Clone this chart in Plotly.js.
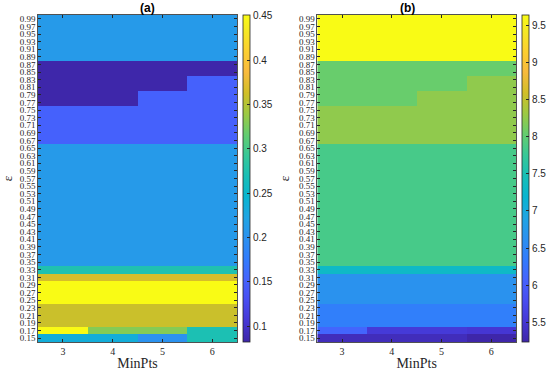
<!DOCTYPE html>
<html>
<head>
<meta charset="utf-8">
<script src="https://cdn.plot.ly/plotly-3.0.1.min.js"></script>
<style>html,body{margin:0;padding:0;background:#fff;}#chart{width:550px;height:371px;}</style>
</head>
<body>
<div id="chart"></div>
<script>
// Data
const minPts = [3, 4, 5, 6];
const epsilon = [0.15,0.17,0.19,0.21,0.23,0.25,0.27,0.29,0.31,0.33,0.35,0.37,0.39,0.41,0.43,0.45,0.47,0.49,0.51,0.53,0.55,0.57,0.59,0.61,0.63,0.65,0.67,0.69,0.71,0.73,0.75,0.77,0.79,0.81,0.83,0.85,0.87,0.89,0.91,0.93,0.95,0.97,0.99];
const epsTickText = ["0.15","0.17","0.19","0.21","0.23","0.25","0.27","0.29","0.31","0.33","0.35","0.37","0.39","0.41","0.43","0.45","0.47","0.49","0.51","0.53","0.55","0.57","0.59","0.61","0.63","0.65","0.67","0.69","0.71","0.73","0.75","0.77","0.79","0.81","0.83","0.85","0.87","0.89","0.91","0.93","0.95","0.97","0.99"];
// Panel (a) values, one row per epsilon (bottom to top), columns MinPts 3..6
const valuesA = [
  [0.235,0.235,0.200,0.272],
  [0.451,0.330,0.330,0.272],
  [0.360,0.360,0.360,0.360],
  [0.360,0.360,0.360,0.360],
  [0.360,0.360,0.360,0.360],
  [0.451,0.451,0.451,0.451],
  [0.451,0.451,0.451,0.451],
  [0.451,0.451,0.451,0.451],
  [0.366,0.366,0.366,0.366],
  [0.275,0.275,0.275,0.275],
  [0.210,0.210,0.210,0.210],
  [0.210,0.210,0.210,0.210],
  [0.210,0.210,0.210,0.210],
  [0.210,0.210,0.210,0.210],
  [0.210,0.210,0.210,0.210],
  [0.210,0.210,0.210,0.210],
  [0.210,0.210,0.210,0.210],
  [0.210,0.210,0.210,0.210],
  [0.210,0.210,0.210,0.210],
  [0.210,0.210,0.210,0.210],
  [0.210,0.210,0.210,0.210],
  [0.210,0.210,0.210,0.210],
  [0.210,0.210,0.210,0.210],
  [0.210,0.210,0.210,0.210],
  [0.210,0.210,0.210,0.210],
  [0.210,0.210,0.210,0.210],
  [0.150,0.150,0.150,0.150],
  [0.150,0.150,0.150,0.150],
  [0.150,0.150,0.150,0.150],
  [0.150,0.150,0.150,0.150],
  [0.150,0.150,0.150,0.150],
  [0.083,0.083,0.150,0.150],
  [0.083,0.083,0.150,0.150],
  [0.083,0.083,0.083,0.150],
  [0.083,0.083,0.083,0.150],
  [0.083,0.083,0.083,0.083],
  [0.083,0.083,0.083,0.083],
  [0.210,0.210,0.210,0.210],
  [0.210,0.210,0.210,0.210],
  [0.210,0.210,0.210,0.210],
  [0.210,0.210,0.210,0.210],
  [0.210,0.210,0.210,0.210],
  [0.210,0.210,0.210,0.210]
];
// Panel (b) values
const valuesB = [
  [5.35,5.35,5.35,5.24],
  [6.10,5.55,5.55,5.50],
  [6.40,6.40,6.40,6.40],
  [6.40,6.40,6.40,6.40],
  [6.40,6.40,6.40,6.40],
  [6.65,6.65,6.65,6.65],
  [6.65,6.65,6.65,6.65],
  [6.65,6.65,6.65,6.65],
  [6.65,6.65,6.65,6.65],
  [7.30,7.30,7.30,7.30],
  [7.85,7.85,7.85,7.85],
  [7.85,7.85,7.85,7.85],
  [7.85,7.85,7.85,7.85],
  [7.85,7.85,7.85,7.85],
  [7.85,7.85,7.85,7.85],
  [7.85,7.85,7.85,7.85],
  [7.85,7.85,7.85,7.85],
  [7.85,7.85,7.85,7.85],
  [7.85,7.85,7.85,7.85],
  [7.85,7.85,7.85,7.85],
  [7.85,7.85,7.85,7.85],
  [7.85,7.85,7.85,7.85],
  [7.85,7.85,7.85,7.85],
  [7.85,7.85,7.85,7.85],
  [7.85,7.85,7.85,7.85],
  [7.85,7.85,7.85,7.85],
  [8.25,8.25,8.25,8.25],
  [8.25,8.25,8.25,8.25],
  [8.25,8.25,8.25,8.25],
  [8.25,8.25,8.25,8.25],
  [8.25,8.25,8.25,8.25],
  [8.05,8.05,8.25,8.25],
  [8.05,8.05,8.25,8.25],
  [8.05,8.05,8.05,8.25],
  [8.05,8.05,8.05,8.25],
  [8.05,8.05,8.05,8.05],
  [8.05,8.05,8.05,8.05],
  [9.64,9.64,9.64,9.64],
  [9.64,9.64,9.64,9.64],
  [9.64,9.64,9.64,9.64],
  [9.64,9.64,9.64,9.64],
  [9.64,9.64,9.64,9.64],
  [9.64,9.64,9.64,9.64]
];
const cbTicksA = [0.1, 0.15, 0.2, 0.25, 0.3, 0.35, 0.4, 0.45];
const cbTicksB = [5.5, 6, 6.5, 7, 7.5, 8, 8.5, 9, 9.5];

// parula colormap
const parulaRGB = [
  [0.2422,0.1504,0.6603],[0.2706,0.2147,0.8364],[0.2813,0.3006,0.9414],[0.2699,0.3892,0.9906],
  [0.1963,0.4847,0.9892],[0.1687,0.5703,0.9359],[0.1248,0.6459,0.8883],[0.0297,0.7082,0.8163],
  [0.0964,0.7500,0.7120],[0.2161,0.7843,0.5923],[0.3909,0.8029,0.4354],[0.6174,0.7876,0.2612],
  [0.8203,0.7498,0.1535],[0.9728,0.7298,0.2394],[0.9892,0.8136,0.1885],[0.9597,0.9135,0.1423],
  [0.9769,0.9839,0.0805]
];
const parulaPos = [0,4,8,12,16,20,24,28,32,36,40,44,48,52,56,60,63];
const parula = parulaRGB.map((c, i) => [parulaPos[i] / 63,
  'rgb(' + c.map(v => Math.round(v * 255)).join(',') + ')']);

const serif = 'Liberation Serif, Times New Roman, serif';
const sans = 'Liberation Sans, Arial, sans-serif';

function cb(x, ticks) {
  return {
    x: x, xanchor: 'left', y: 0.5, yanchor: 'middle', len: 1, lenmode: 'fraction',
    thickness: 7, thicknessmode: 'pixels', xpad: 0, ypad: 0,
    outlinewidth: 0.8, outlinecolor: '#262626',
    tickvals: ticks, ticks: 'inside', ticklen: 3, tickcolor: '#262626',
    tickfont: {family: sans, size: 10, color: '#262626'}
  };
}

const traces = [
  {type: 'heatmap', x: minPts, y: epsilon, z: valuesA, colorscale: parula,
   zmin: 0.082, zmax: 0.451, xaxis: 'x', yaxis: 'y', colorbar: cb(0.405, cbTicksA)},
  {type: 'heatmap', x: minPts, y: epsilon, z: valuesB, colorscale: parula,
   zmin: 5.235, zmax: 9.64, xaxis: 'x2', yaxis: 'y2', colorbar: cb(0.955, cbTicksB)}
];

function xax(domain, anchor) {
  return {
    domain: domain, anchor: anchor, range: [2.5, 6.5], tickvals: minPts,
    ticks: 'inside', ticklen: 3, tickcolor: '#262626', mirror: 'allticks',
    showline: true, linecolor: '#262626', linewidth: 0.8, showgrid: false, zeroline: false,
    tickfont: {family: serif, size: 10, color: '#262626'},
    title: {text: 'MinPts', font: {family: serif, size: 14, color: '#262626'}, standoff: 2},
    automargin: false
  };
}
function yax(anchor, standoff) {
  return {
    anchor: anchor, range: [0.14, 1.0], tickvals: epsilon, ticktext: epsTickText,
    ticks: 'inside', ticklen: 3, tickcolor: '#262626', mirror: 'allticks',
    showline: true, linecolor: '#262626', linewidth: 0.8, showgrid: false, zeroline: false,
    tickfont: {family: serif, size: 9, color: '#262626'},
    title: {text: 'ε', font: {family: serif, size: 13, color: '#262626'}, standoff: standoff},
    automargin: false
  };
}

const layout = {
  width: 550, height: 371,
  margin: {l: 38, r: 0, t: 15, b: 29},
  paper_bgcolor: '#fff', plot_bgcolor: '#fff',
  xaxis: xax([0, 0.3926], 'y'),
  yaxis: yax('x', 6),
  xaxis2: xax([0.5508, 0.9428], 'y2'),
  yaxis2: yax('x2', 6),
  annotations: [
    {text: '<b>(a)</b>', xref: 'paper', yref: 'paper', x: 0.1963, y: 1, yanchor: 'bottom', yshift: -2,
     showarrow: false, font: {family: sans, size: 12, color: '#000'}},
    {text: '<b>(b)</b>', xref: 'paper', yref: 'paper', x: 0.7468, y: 1, yanchor: 'bottom', yshift: -2,
     showarrow: false, font: {family: sans, size: 12, color: '#000'}}
  ],
  showlegend: false
};

Plotly.newPlot('chart', traces, layout, {displayModeBar: false, staticPlot: true});
</script>
</body>
</html>
